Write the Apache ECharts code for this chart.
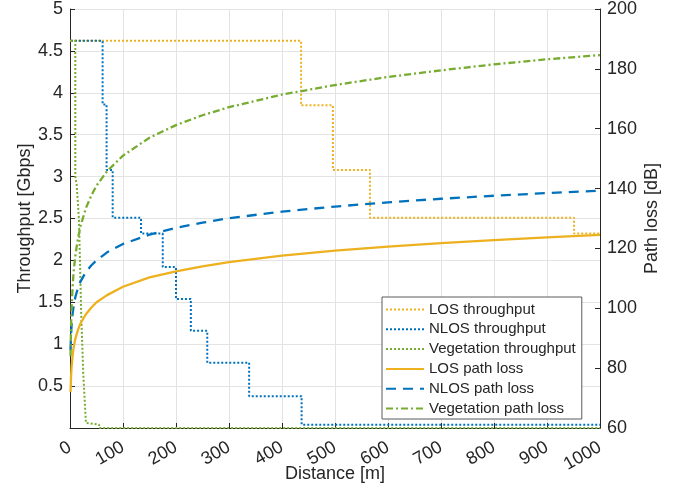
<!DOCTYPE html>
<html>
<head>
<meta charset="utf-8">
<script src="https://cdn.jsdelivr.net/npm/echarts@6/dist/echarts.min.js"></script>
<style>
  html, body { margin: 0; padding: 0; background: #fff; }
  #grafico { width: 688px; height: 484px; }
</style>
</head>
<body>
<div id="grafico"></div>
<script>
// Dados
// Vazão (degraus): distância onde começa cada nível e o valor do nível
const losThrDist = [0, 436, 496, 566, 951, 1000];
const losThrVal = [4.62, 3.85, 3.08, 2.51, 2.32, 2.32];

const nlosThrDist = [2, 61.5, 69, 80.5, 134, 175, 200, 228, 259, 338, 437, 1000];
const nlosThrVal = [4.62, 3.86, 3.08, 2.51, 2.32, 1.92, 1.54, 1.16, 0.78, 0.38, 0.04, 0.04];

// Vegetação: queda quase vertical, pontos lidos diretamente
const vegThrDist = [1, 10, 10, 12.6, 17, 21, 25, 30, 55, 55, 1000];
const vegThrVal = [4.62, 4.62, 3.0, 2.9, 2.48, 1.4, 0.65, 0.06, 0.04, 0, 0];

// Perda de percurso [dB]
const plDist = [1, 2, 3, 5, 7, 10, 15, 20, 30, 40, 50, 70, 100, 150, 200, 250, 300, 400, 500, 600, 700, 800, 900, 1000];
const losPL = [72, 77.3, 80.4, 84.3, 87, 89.8, 92.8, 95, 98, 100.2, 102, 104.4, 107.2, 110.3, 112.3, 114, 115.4, 117.6, 119.3, 120.6, 121.8, 122.8, 123.7, 124.5];
const nlosPL = [86, 91.3, 94.4, 98.3, 101, 103.7, 106.8, 109, 112.1, 114.3, 116, 118.7, 121.5, 124.6, 126.9, 128.6, 130.1, 132.3, 134, 135.4, 136.6, 137.6, 138.5, 139.3];
const vegPL = [84, 94, 100, 107.5, 112.5, 117.5, 123.4, 127.5, 133.5, 137.6, 141, 145.8, 151, 157, 161.2, 164.5, 167.2, 171.4, 174.6, 177.3, 179.5, 181.5, 183.2, 184.6];

const COR_LOS = '#EDB120';
const COR_NLOS = '#0072BD';
const COR_VEG = '#77AC30';
const COR_TXT = '#262626';
const FONTE = 'Liberation Sans, Arial, Helvetica, sans-serif';

const pares = (xs, ys) => xs.map((x, i) => [x, ys[i]]);

const grafico = echarts.init(document.getElementById('grafico'));

const eixoComum = {
	axisLine: { show: true, lineStyle: { color: COR_TXT, width: 1 } },
	axisTick: { show: true, inside: true, length: 5, lineStyle: { color: COR_TXT } },
	axisLabel: { color: COR_TXT, fontSize: 18, fontFamily: FONTE },
	nameTextStyle: { color: COR_TXT, fontSize: 18, fontFamily: FONTE },
	nameMoveOverlap: false
};

const option = {
	animation: false,
	backgroundColor: '#fff',
	grid: { left: 70, right: 88, top: 9, bottom: 56, outerBoundsMode: 'none', containLabel: false },
	legend: {
		orient: 'vertical',
		left: 382,
		top: 297,
		padding: [5, 6, 3, 3],
		itemWidth: 38,
		itemHeight: 14,
		itemGap: 4.8,
		backgroundColor: '#fff',
		borderColor: '#5a5a5a',
		borderWidth: 1,
		borderRadius: 0,
		itemStyle: { opacity: 0 },
		textStyle: { color: COR_TXT, fontSize: 15, fontFamily: FONTE, lineHeight: 14 }
	},
	xAxis: {
		...eixoComum,
		type: 'value',
		min: 0,
		max: 1000,
		interval: 100,
		name: 'Distance [m]',
		nameLocation: 'middle',
		nameGap: 37,
		axisLabel: { ...eixoComum.axisLabel, rotate: 30, margin: 18, formatter: v => String(v) },
		splitLine: { show: true, lineStyle: { color: '#e3e3e3', width: 1 } }
	},
	yAxis: [{
		...eixoComum,
		type: 'value',
		min: 0,
		max: 5,
		interval: 0.5,
		name: 'Throughput [Gbps]',
		nameLocation: 'middle',
		nameGap: 36,
		axisLabel: { ...eixoComum.axisLabel, margin: 7, formatter: v => v === 0 ? '' : String(v) },
		splitLine: { show: true, lineStyle: { color: '#e3e3e3', width: 1 } }
	}, {
		...eixoComum,
		type: 'value',
		position: 'right',
		min: 60,
		max: 200,
		interval: 20,
		name: 'Path loss [dB]',
		nameLocation: 'middle',
		nameGap: 43,
		axisLabel: { ...eixoComum.axisLabel, margin: 7 },
		splitLine: { show: false }
	}],
	series: [{
		name: 'LOS throughput',
		type: 'line',
		yAxisIndex: 0,
		step: 'end',
		symbol: 'none',
		data: pares(losThrDist, losThrVal),
		lineStyle: { color: COR_LOS, width: 2, type: [2, 2] },
		itemStyle: { color: COR_LOS }
	}, {
		name: 'NLOS throughput',
		type: 'line',
		yAxisIndex: 0,
		step: 'end',
		symbol: 'none',
		data: pares(nlosThrDist, nlosThrVal),
		lineStyle: { color: COR_NLOS, width: 2, type: [2, 2] },
		itemStyle: { color: COR_NLOS }
	}, {
		name: 'Vegetation throughput',
		type: 'line',
		yAxisIndex: 0,
		symbol: 'none',
		data: pares(vegThrDist, vegThrVal),
		lineStyle: { color: COR_VEG, width: 2, type: [2, 2] },
		itemStyle: { color: COR_VEG }
	}, {
		name: 'LOS path loss',
		type: 'line',
		yAxisIndex: 1,
		symbol: 'none',
		data: pares(plDist, losPL),
		lineStyle: { color: COR_LOS, width: 2.3 },
		itemStyle: { color: COR_LOS }
	}, {
		name: 'NLOS path loss',
		type: 'line',
		yAxisIndex: 1,
		symbol: 'none',
		data: pares(plDist, nlosPL),
		lineStyle: { color: COR_NLOS, width: 2.3, type: [10, 7] },
		itemStyle: { color: COR_NLOS }
	}, {
		name: 'Vegetation path loss',
		type: 'line',
		yAxisIndex: 1,
		symbol: 'none',
		data: pares(plDist, vegPL),
		lineStyle: { color: COR_VEG, width: 2.3, type: [7, 3, 2, 3] },
		itemStyle: { color: COR_VEG }
	}]
};

grafico.setOption(option);
</script>
</body>
</html>
